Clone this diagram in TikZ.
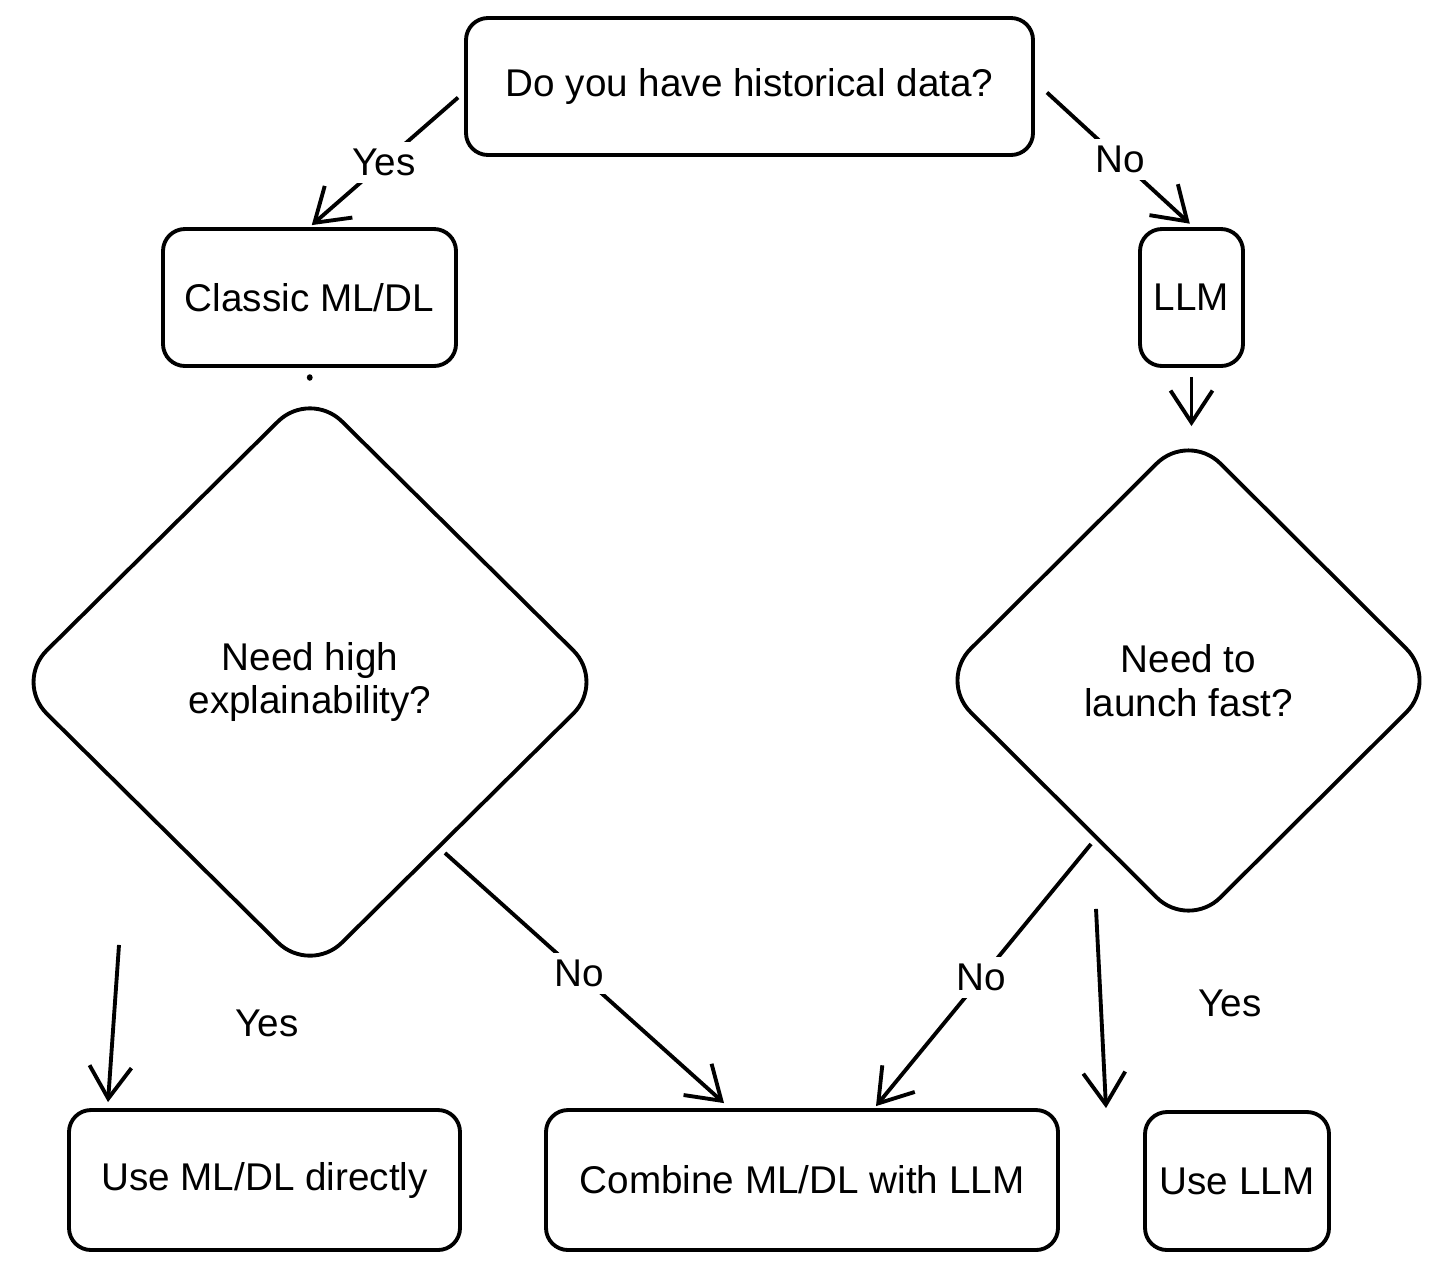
\documentclass[tikz,border=0pt]{standalone}
\usepackage{fontspec}
\setmainfont{Liberation Sans}
\usetikzlibrary{shapes.geometric,arrows.meta}
\begin{document}
\begin{tikzpicture}[>={Straight Barb[length=3.2mm,width=4.2mm]},
    box/.style={draw, line width=1.1pt, rounded corners=0.22cm, inner sep=0pt,
                font=\fontsize{11}{12}\selectfont},
    decision/.style={draw, diamond, line width=1.1pt, rounded corners=0.45cm, inner sep=0pt,
                align=center, font=\fontsize{11}{12.5}\selectfont},
    flow/.style={->, line width=1.1pt},
    lbl/.style={fill=white, inner sep=2pt, font=\fontsize{11}{12}\selectfont}]
    \useasboundingbox (0,0) rectangle (14.56,-12.67);

    % boxes
    \node[box, minimum width=5.67cm, minimum height=1.37cm] (q) at (7.495,-0.865) {Do you have historical data?};
    \node[box, minimum width=2.93cm, minimum height=1.37cm] (classic) at (3.095,-2.975) {Classic ML/DL};
    \node[box, minimum width=1.03cm, minimum height=1.37cm] (llm) at (11.915,-2.975) {LLM};

    % decisions (corners rounded off, so a bit larger than drawn)
    \node[decision, minimum width=5.92cm, minimum height=5.86cm] (expl) at (3.10,-6.82) {Need high\\explainability?};
    \node[decision, minimum width=5.01cm, minimum height=4.99cm] (fast) at (11.885,-6.805) {Need to\\launch fast?};

    % outcomes
    \node[box, minimum width=3.91cm, minimum height=1.40cm] (useml) at (2.645,-11.80) {Use ML/DL directly};
    \node[box, minimum width=5.12cm, minimum height=1.40cm] (comb) at (8.02,-11.80) {Combine ML/DL with LLM};
    \node[box, minimum width=1.84cm, minimum height=1.38cm] (usellm) at (12.37,-11.81) {Use LLM};

    % connectors
    \draw[flow, shorten >=0.03cm] ([shift={(-0.06,-0.11)}]q.west) -- (classic.north)
        node[lbl, pos=0.5] {Yes};
    \draw[flow, shorten >=0.05cm] ([shift={(0.12,-0.06)}]q.east) -- ([xshift=0.02cm]llm.north)
        node[lbl, pos=0.5] {No};
    \draw[line width=1.6pt, line cap=round, shorten <=0.1cm, shorten >=0.1cm] (classic.south) -- (expl.north);
    \draw[flow, shorten <=0.09cm, shorten >=0.03cm] (llm.south) -- ([xshift=0.03cm]fast.north);

    \draw[flow] ([shift={(-0.14,-0.235)}]expl.south east) -- ([shift={(-0.78,0.05)}]comb.north)
        node[lbl, pos=0.48] {No};
    \draw[flow] ([shift={(0.2875,-0.3775)}]fast.south west) -- ([shift={(0.74,0.02)}]comb.north)
        node[lbl, pos=0.51] {No};
    \draw[flow] ([shift={(-1.91,0.32)}]expl.south) -- ([shift={(-1.565,0.06)}]useml.north);
    \draw[flow] ([shift={(-0.925,0.23)}]fast.south) -- ([shift={(-1.31,0.02)}]usellm.north);

    \node[lbl] (yesa) at (2.67,-10.23) {Yes};
    \node[lbl] (yesb) at (12.30,-10.03) {Yes};
\end{tikzpicture}
\end{document}
